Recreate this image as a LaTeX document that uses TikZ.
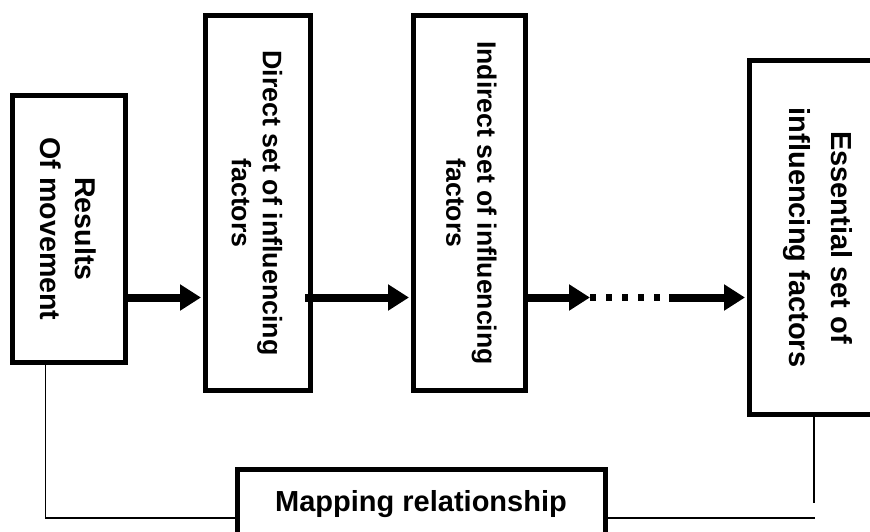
\documentclass[tikz,border=0pt]{standalone}
\usepackage{fontspec}
\setmainfont{Liberation Sans}
\usetikzlibrary{arrows.meta}
\tikzset{
  box/.style={draw=black, line width=5pt, fill=white, inner sep=0pt, align=center, font=\bfseries},
  flow/.style={line width=8pt, -{Triangle[length=21pt,width=25pt]}},
  thin/.style={line width=1.4pt},
}
\begin{document}
\begin{tikzpicture}[x=1pt,y=-1pt]
\clip (0,0) rectangle (870,531);
\fill[white] (0,0) rectangle (870,531);
\coordinate (lvl) at (0,297.5);
\node[box, minimum width=113pt, minimum height=267pt] (b1) at (69,229) {};
\node[rotate=-90, font=\bfseries\fontsize{28.6}{35}\selectfont, align=center] (t1) at (68.5,229) {Results\\Of movement};
\node[box, minimum width=105pt, minimum height=375pt] (b2) at (258,203) {};
\node[rotate=-90, font=\bfseries\fontsize{26.8}{31}\selectfont, align=center] (t2) at (257,203) {Direct set of influencing\\factors};
\node[box, minimum width=112pt, minimum height=375pt] (b3) at (469.5,203) {};
\node[rotate=-90, font=\bfseries\fontsize{26.6}{31}\selectfont, align=center] (t3) at (471.5,203) {Indirect set of influencing\\factors};
\node[box, minimum width=137pt, minimum height=354pt] (b4) at (818,237.5) {};
\node[rotate=-90, font=\bfseries\fontsize{29}{42}\selectfont, align=center] (t4) at (818,237.5) {Essential set of\\influencing factors};
\node[box, minimum width=368pt, minimum height=72pt] (b5) at (421.5,505.5) {};
\node[font=\bfseries\fontsize{29}{34}\selectfont] (t5) at (421,504) {Mapping relationship};
% arrows
\draw[flow, shorten >=2pt] (b1.east |- lvl) -- (b2.west |- lvl);
\draw[flow, shorten >=2pt] ([xshift=-8pt]b2.east |- lvl) -- (b3.west |- lvl);
\coordinate (d1) at (590,297.5);
\coordinate (d2) at (661,297.5);
\coordinate (d3) at (669,297.5);
\draw[flow] (b3.east |- lvl) -- (d1);
\draw[line width=7pt, dash pattern=on 6pt off 10pt] (d1) -- (d2);
\draw[flow, shorten >=2pt] (d3) -- (b4.west |- lvl);
% mapping lines
\coordinate (lc) at (45.5,518);
\coordinate (rc) at (815,518);
\coordinate (rv) at (814,503);
\draw[thin] (b1.south -| lc) -- (lc) -- (b5.west |- lc);
\draw[thin] (b5.east |- rc) -- (rc);
\draw[thin] (b4.south -| rv) -- (rv);
\end{tikzpicture}
\end{document}
